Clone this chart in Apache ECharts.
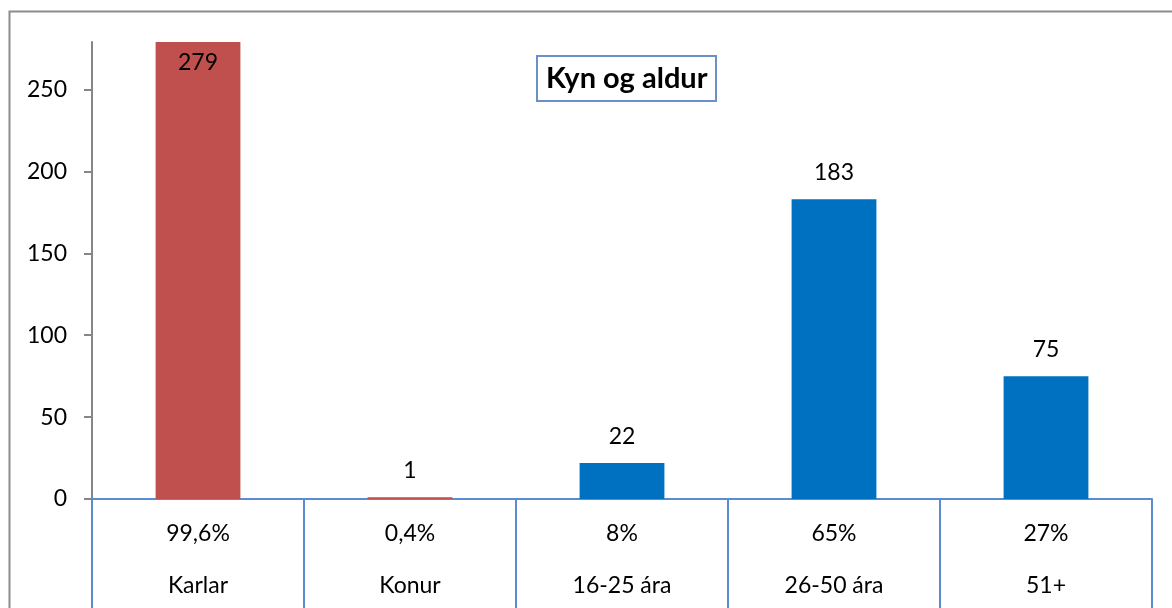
<!DOCTYPE html>
<html>
<head>
<meta charset="utf-8">
<script src="https://cdn.jsdelivr.net/npm/echarts@6/dist/echarts.min.js"></script>
<style>
  html, body { margin: 0; padding: 0; background: #fff; }
  #chart { width: 1172px; height: 608px; }
</style>
</head>
<body>
<div id="chart"></div>
<script>
const categories = ["Karlar", "Konur", "16-25 ára", "26-50 ára", "51+"];
const percents = ["99,6%", "0,4%", "8%", "65%", "27%"];
const counts = [279, 1, 22, 183, 75];
const barColors = ["#C0504D", "#C0504D", "#0070C0", "#0070C0", "#0070C0"];
const yTicks = [0, 50, 100, 150, 200, 250];

const FONT = "Lato";

const chart = echarts.init(document.getElementById("chart"), null, { renderer: "canvas" });

const barData = counts.map((v, i) => {
  const item = { value: v, itemStyle: { color: barColors[i] } };
  // the tallest bar carries its label inside, like the original
  if (i === 0) item.label = { position: "insideTop", distance: 9 };
  return item;
});

chart.setOption({
  backgroundColor: "#ffffff",
  animation: false,
  textStyle: { fontFamily: FONT },
  title: {
    text: "Kyn og aldur",
    left: 537,
    top: 56,
    padding: [8, 9, 8, 9],
    borderColor: "#6A8FCB",
    borderWidth: 2,
    textStyle: { fontFamily: FONT, fontSize: 29, fontWeight: "bold", color: "#000" }
  },
  graphic: [
    {
      type: "rect",
      shape: { x: 9.5, y: 11.5, width: 1300, height: 800 },
      style: { fill: "none", stroke: "#8C8C8C", lineWidth: 2 },
      silent: true
    }
  ],
  grid: { left: 92, right: 20, top: 42, bottom: 109 },
  xAxis: {
    type: "category",
    data: categories,
    axisLine: { show: true, lineStyle: { color: "#5B8BD0", width: 2 } },
    axisTick: { show: true, length: 112, lineStyle: { color: "#5B8BD0", width: 2 } },
    axisLabel: {
      margin: 9,
      interval: 0,
      formatter: (val, idx) => `{p|${percents[idx]}}\n{n|${val}}`,
      rich: {
        p: { fontFamily: FONT, fontSize: 23, color: "#000", lineHeight: 52 },
        n: { fontFamily: FONT, fontSize: 23, color: "#000", lineHeight: 52 }
      }
    }
  },
  yAxis: {
    type: "value",
    min: 0,
    max: 279,
    interval: 50,
    axisLine: { show: true, lineStyle: { color: "#868686", width: 2 } },
    axisTick: { show: true, length: 8, customValues: yTicks, lineStyle: { color: "#868686", width: 2 } },
    axisLabel: {
      margin: 25,
      customValues: yTicks,
      fontFamily: FONT,
      fontSize: 23,
      color: "#000"
    },
    splitLine: { show: false }
  },
  series: [
    {
      type: "bar",
      data: barData,
      barWidth: "40%",
      label: {
        show: true,
        position: "top",
        distance: 15,
        fontFamily: FONT,
        fontSize: 23,
        color: "#000"
      }
    }
  ]
});
</script>
</body>
</html>
